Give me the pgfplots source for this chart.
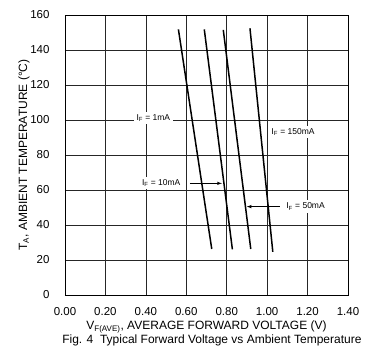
\documentclass[border=0pt]{standalone}
\usepackage{pgfplots}
\pgfplotsset{compat=1.18}
\usepackage{fontspec}
\setmainfont{Liberation Sans}
\begin{document}
\begin{tikzpicture}
\begin{axis}[
  scale only axis, width=283pt, height=280pt,
  xmin=0, xmax=1.4, ymin=0, ymax=160,
  xtick={0,0.2,0.4,0.6,0.8,1.0,1.2,1.4},
  ytick={0,20,40,60,80,100,120,140,160},
  grid=major, major grid style={black!85, line width=0.6pt},
  axis line style={black, line width=0.7pt},
  tick style={draw=none},
  /pgf/number format/assume math mode=true,
  ticklabel style={font=\fontsize{11.5}{13}\selectfont},
  xticklabel style={anchor=base, yshift=-21pt, /pgf/number format/fixed, /pgf/number format/fixed zerofill, /pgf/number format/precision=2},
  yticklabel style={anchor=east, xshift=-12pt, /pgf/number format/fixed},
  label style={font=\fontsize{12}{14}\selectfont},
  xlabel={V\textsubscript{F(AVE)}, AVERAGE FORWARD VOLTAGE (V)},
  ylabel={T\textsubscript{A}, AMBIENT TEMPERATURE (°C)},
  xlabel style={at={(axis description cs:0.5,0)}, anchor=base, yshift=-35pt},
  ylabel style={at={(axis description cs:-0.134,0.5)}, anchor=base},
  clip=false,
]
\addplot[black, line width=1.5pt] coordinates {(0.561,151.8) (0.726,26.3)};
\addplot[black, line width=1.5pt] coordinates {(0.689,151.8) (0.828,26.1)};
\addplot[black, line width=1.5pt] coordinates {(0.783,151.5) (0.919,26.3)};
\addplot[black, line width=1.5pt] coordinates {(0.915,152.4) (1.028,24.7)};

\node[fill=white, inner sep=2.5pt, font=\fontsize{8.5}{10}\selectfont] at (axis cs:0.437,101) {I\textsubscript{F} = 1mA};
\node[fill=white, inner sep=2.5pt, font=\fontsize{8.5}{10}\selectfont] at (axis cs:1.128,93.3) {I\textsubscript{F} = 150mA};
\node[fill=white, inner sep=2.5pt, font=\fontsize{8.5}{10}\selectfont] at (axis cs:0.476,63.8) {I\textsubscript{F} = 10mA};
\node[fill=white, inner sep=2.5pt, font=\fontsize{8.5}{10}\selectfont] at (axis cs:1.19,50.5) {I\textsubscript{F} = 50mA};
\draw[-latex, black, line width=0.6pt] (axis cs:0.618,63.8) -- (axis cs:0.776,63.8);
\draw[-latex, black, line width=0.6pt] (axis cs:1.063,50.5) -- (axis cs:0.899,50.5);

\node[font=\fontsize{12}{14}\selectfont, anchor=base] at (axis description cs:0.519,0) [yshift=-49pt] {Fig. 4\ \ Typical Forward Voltage vs Ambient Temperature};
\end{axis}
\pgfresetboundingbox
\path[use as bounding box] (current axis.south west) ++(-65pt,-57pt) rectangle ++(366pt,352pt);
\end{tikzpicture}
\end{document}
